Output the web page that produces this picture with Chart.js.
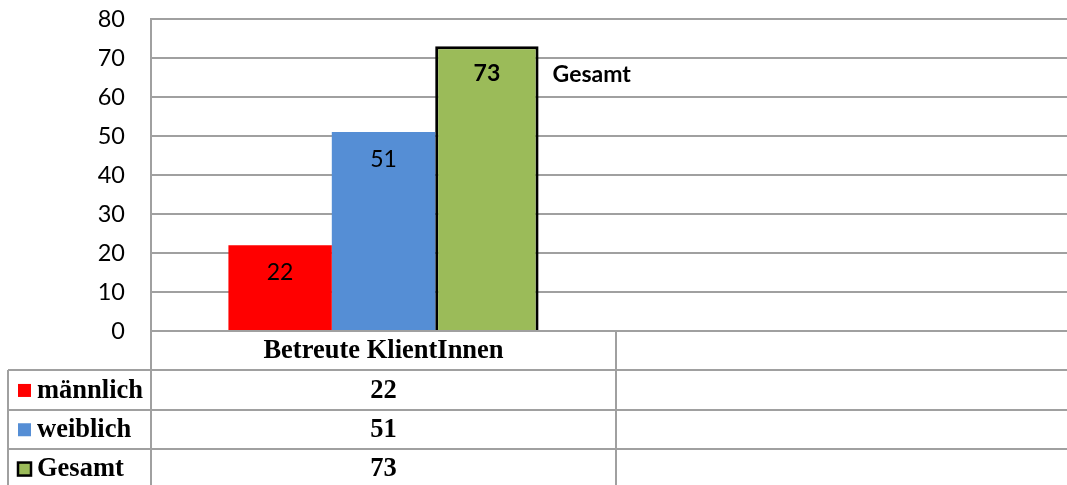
<!DOCTYPE html>
<html>
<head>
<meta charset="utf-8">
<script src="https://cdn.jsdelivr.net/npm/chart.js@4"></script>
<style>
  html, body { margin: 0; padding: 0; background: #fff; overflow: hidden; }
  #wrap { width: 1081px; height: 485px; }
</style>
</head>
<body>
<div id="wrap"><canvas id="chart" width="1081" height="485"></canvas></div>
<script>
const categories = ['Betreute KlientInnen', ''];
const seriesNames = ['männlich', 'weiblich', 'Gesamt'];
const maennlich = [22, null];
const weiblich = [51, null];
const gesamt = [73, null];
const seriesColors = ['#ff0000', '#558ed5', '#9bbb59'];

const gridColor = '#a0a0a0';
const tableFont = 'bold 26.5px "Liberation Serif", "Times New Roman", serif';
const labelFamily = 'Lato, "Open Sans", sans-serif';

// data labels inside the bars, plus the series name next to Gesamt
const barLabels = {
  id: 'barLabels',
  afterDatasetsDraw(chart) {
    const ctx = chart.ctx;
    ctx.save();
    ctx.fillStyle = '#000';
    ctx.textBaseline = 'middle';
    chart.data.datasets.forEach((ds, i) => {
      const meta = chart.getDatasetMeta(i);
      meta.data.forEach((bar, j) => {
        const v = ds.data[j];
        if (v == null) return;
        const bold = i === 2;
        ctx.font = (bold ? 'bold ' : '') + '23px ' + labelFamily;
        ctx.textAlign = 'center';
        ctx.fillText(String(v), bar.x, bar.y + 27);
        if (bold) {
          ctx.textAlign = 'left';
          ctx.fillText(ds.label, bar.x + bar.width / 2 + 14, bar.y + 28);
        }
      });
    });
    ctx.restore();
  }
};

// Excel style data table below the plot
const dataTable = {
  id: 'dataTable',
  afterDraw(chart) {
    const ctx = chart.ctx;
    const area = chart.chartArea;
    const x = chart.scales.x;
    const left = 8;
    const rowH = 39.3;
    const top = area.bottom;
    const catW = (area.right - area.left) / categories.length;
    ctx.save();
    ctx.strokeStyle = gridColor;
    ctx.lineWidth = 2;
    for (let r = 1; r <= seriesNames.length; r++) {
      const y = Math.round(top + r * rowH);
      ctx.beginPath();
      ctx.moveTo(left, y);
      ctx.lineTo(chart.width, y);
      ctx.stroke();
    }
    ctx.beginPath();
    ctx.moveTo(left, Math.round(top + rowH));
    ctx.lineTo(left, chart.height);
    ctx.moveTo(area.left, top);
    ctx.lineTo(area.left, chart.height);
    for (let c = 1; c <= categories.length; c++) {
      const xx = Math.round(area.left + c * catW);
      ctx.moveTo(xx, top);
      ctx.lineTo(xx, chart.height);
    }
    ctx.stroke();

    ctx.fillStyle = '#000';
    ctx.font = tableFont;
    ctx.textBaseline = 'middle';
    ctx.textAlign = 'center';
    categories.forEach((c, j) => {
      ctx.fillText(c, x.getPixelForValue(j), top + rowH / 2 + 1);
    });
    chart.data.datasets.forEach((ds, i) => {
      const cy = top + (i + 1.5) * rowH + 1;
      ctx.fillStyle = ds.backgroundColor;
      ctx.fillRect(18, cy - 7, 13, 13);
      if (ds.borderWidth) {
        ctx.strokeStyle = '#000';
        ctx.lineWidth = 2.5;
        ctx.strokeRect(18, cy - 7, 13, 13);
      }
      ctx.fillStyle = '#000';
      ctx.textAlign = 'left';
      ctx.fillText(ds.label, 37, cy);
      ctx.textAlign = 'center';
      ds.data.forEach((v, j) => {
        if (v == null) return;
        ctx.fillText(String(v), x.getPixelForValue(j), cy);
      });
    });
    ctx.restore();
  }
};

new Chart(document.getElementById('chart'), {
  type: 'bar',
  data: {
    labels: categories,
    datasets: [
      { label: seriesNames[0], data: maennlich, backgroundColor: seriesColors[0], borderWidth: 0 },
      { label: seriesNames[1], data: weiblich, backgroundColor: seriesColors[1], borderWidth: 0 },
      { label: seriesNames[2], data: gesamt, backgroundColor: seriesColors[2],
        borderColor: '#000', borderWidth: 3, borderSkipped: 'bottom' }
    ]
  },
  options: {
    responsive: false,
    animation: false,
    events: [],
    layout: { padding: { top: 19, bottom: 154, left: 0, right: 0 } },
    datasets: { bar: { categoryPercentage: 0.667, barPercentage: 1 } },
    plugins: {
      legend: { display: false },
      tooltip: { enabled: false }
    },
    scales: {
      x: {
        display: true,
        grid: { display: false, drawTicks: false },
        border: { display: false },
        ticks: { display: false },
        afterFit(scale) { scale.height = 0; }
      },
      y: {
        min: 0,
        max: 80,
        ticks: {
          stepSize: 10,
          padding: 26,
          color: '#000',
          font: { family: labelFamily, size: 23.5 }
        },
        grid: { color: gridColor, lineWidth: 2, drawTicks: false },
        border: { display: true, color: gridColor, width: 2 },
        afterFit(scale) {
          scale.width = 151;
          scale.paddingTop = 0;
          scale.paddingBottom = 0;
        }
      }
    }
  },
  plugins: [barLabels, dataTable]
});
</script>
</body>
</html>
